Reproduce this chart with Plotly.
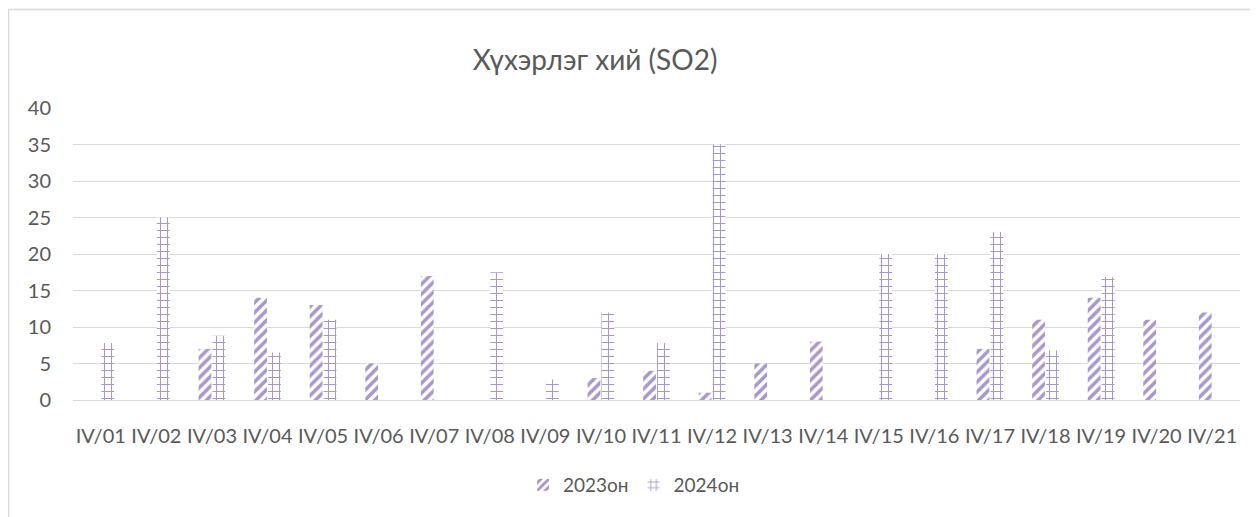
import plotly.graph_objects as go

categories = [f"IV/{i:02d}" for i in range(1, 22)]
series_2023 = [None, None, 7, 14, 13, 5, 17, None, None, 3, 4, 1, 5, 8, None, None, 7, 11, 14, 11, 12]
series_2024 = [7.8, 25, 8.8, 6.5, 11, None, None, 17.5, 2.8, 12, 7.8, 35, None, None, 20, 20, 23, 6.8, 16.8, None, None]
y_ticks = [0, 5, 10, 15, 20, 25, 30, 35, 40]

PURPLE = "#A797CB"
FONT = "Lato"
TXT = "#595959"

fig = go.Figure()
fig.add_trace(go.Bar(
    x=categories, y=series_2023, name="2023он",
    marker=dict(color=PURPLE, line=dict(width=0),
                pattern=dict(shape="/", fgcolor=PURPLE, bgcolor="white",
                             size=7, solidity=0.5, fillmode="replace")),
))
fig.add_trace(go.Bar(
    x=categories, y=series_2024, name="2024он",
    marker=dict(color=PURPLE, line=dict(width=0),
                pattern=dict(shape="+", fgcolor=PURPLE, bgcolor="white",
                             size=7, solidity=0.28, fillmode="replace")),
))

# page body has an 8px margin: figure coords = screen coords - 8
OFF = 8
W, H = 1258, 517
L = 73 - OFF
T = 108 - OFF
R = W - (1240 - OFF)
B = H - (400 - OFF)
pw, ph = W - L - R, H - T - B

def px(sx):
    return (sx - OFF - L) / pw

def py(sy):
    return (H - B - (sy - OFF)) / ph

fig.update_layout(
    width=W, height=H,
    margin=dict(l=L, r=R, t=T, b=B, autoexpand=False),
    paper_bgcolor="white", plot_bgcolor="white",
    barmode="group", bargap=0.5, bargroupgap=0.08,
    font=dict(family=FONT, color=TXT, size=20),
    title=dict(text="Хүхэрлэг хий (SO2)", x=(595 - OFF) / W, xanchor="center",
               y=1 - 52 / H, yanchor="middle",
               font=dict(family=FONT, size=28, color=TXT)),
    xaxis=dict(showgrid=False, showline=False, ticks="",
               tickfont=dict(size=20, color=TXT), tickangle=0,
               ticklabelstandoff=22),
    yaxis=dict(range=[0, 40], tickvals=y_ticks, showgrid=True,
               gridcolor="#D9D9D9", gridwidth=1, zeroline=True,
               zerolinecolor="#D9D9D9", zerolinewidth=1, showline=False,
               ticks="outside", ticklen=17, tickcolor="rgba(0,0,0,0)",
               tickfont=dict(size=20, color=TXT)),
    legend=dict(orientation="h", x=px(634), xanchor="center", y=py(485),
                yanchor="middle", font=dict(size=19, color=TXT),
                itemwidth=30, traceorder="normal"),
    shapes=[
        dict(type="path", xref="paper", yref="paper",
             path=f"M {px(8.5)},{py(530)} L {px(8.5)},{py(9.5)} L {px(1270)},{py(9.5)}",
             line=dict(color="#D9D9D9", width=1.5)),
    ],
)

fig.write_html("out.html")
